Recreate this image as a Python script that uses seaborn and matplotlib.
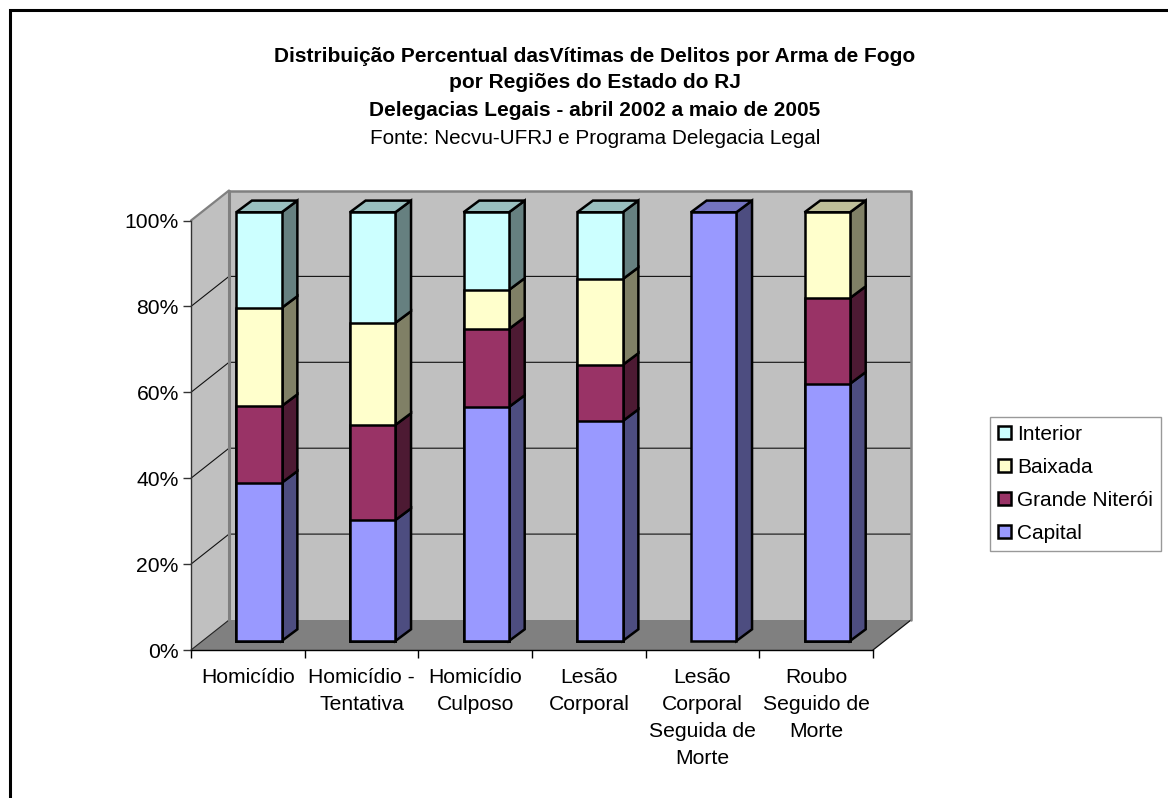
import matplotlib
matplotlib.use("Agg")
import matplotlib.pyplot as plt
from matplotlib.patches import Polygon, Patch
from matplotlib.ticker import FixedLocator, NullFormatter
import numpy as np
import pandas as pd
import seaborn as sns

categories = ["Homicídio", "Homicídio -\nTentativa", "Homicídio\nCulposo", "Lesão\nCorporal",
              "Lesão\nCorporal\nSeguida de\nMorte", "Roubo\nSeguido de\nMorte"]
capital = [36.9, 28.2, 54.6, 51.3, 100.0, 60.0]
niteroi = [17.9, 22.2, 18.2, 13.1, 0.0, 20.0]
baixada = [22.9, 23.8, 9.1, 20.0, 0.0, 20.0]
interior = [22.3, 25.8, 18.1, 15.6, 0.0, 0.0]
series_names = ["Capital", "Grande Niterói", "Baixada", "Interior"]
series_values = [capital, niteroi, baixada, interior]
front_colors = ["#9999FF", "#993366", "#FFFFCC", "#CCFFFF"]
side_colors = ["#4D4D80", "#4D1A33", "#808066", "#668080"]
top_colors = ["#7373BF", "#732650", "#BFBF99", "#99BFBF"]
title_lines = ["Distribuição Percentual dasVítimas de Delitos por Arma de Fogo",
               "por Regiões do Estado do RJ",
               "Delegacias Legais - abril 2002 a maio de 2005"]
source_line = "Fonte: Necvu-UFRJ e Programa Delegacia Legal"

sns.set_theme(style="white")
plt.rcParams["font.family"] = ["Liberation Sans", "DejaVu Sans"]

W, H = 1168, 798
fig = plt.figure(figsize=(W / 100, H / 100), dpi=100, facecolor="white")


def rect(x0, y_top, x1, y_bottom):
    return [x0 / W, 1 - y_bottom / H, (x1 - x0) / W, (y_bottom - y_top) / H]


# pixel canvas for frame, walls and depth faces
bg = fig.add_axes([0, 0, 1, 1], zorder=0)
bg.set_xlim(0, W)
bg.set_ylim(H, 0)
bg.axis("off")
bg.plot([10, 10, W], [H, 10, 10], color="black", lw=2.2, solid_joinstyle="miter", clip_on=False)

fx0, fx1, fy0, fy1 = 191, 873, 650, 220.5
ddx, ddy = 38, -30
wall = "#C0C0C0"
bg.add_patch(Polygon([(fx0, fy0), (fx0, fy1), (fx0 + ddx, fy1 + ddy), (fx0 + ddx, fy0 + ddy)],
                     fc=wall, ec="none"))
bg.add_patch(Polygon([(fx0 + ddx, fy1 + ddy), (fx1 + ddx, fy1 + ddy), (fx1 + ddx, fy0 + ddy), (fx0 + ddx, fy0 + ddy)],
                     fc=wall, ec="none"))
bg.add_patch(Polygon([(fx0, fy0), (fx0 + ddx, fy0 + ddy), (fx1 + ddx, fy0 + ddy), (fx1, fy0)],
                     fc="#808080", ec="none"))
for k in range(1, 5):
    y = fy0 + (fy1 - fy0) * k / 5
    bg.plot([fx0, fx0 + ddx, fx1 + ddx], [y, y + ddy, y + ddy], color="#111111", lw=0.8)
bg.plot([fx0, fx0 + ddx], [fy0, fy0 + ddy], color="#222222", lw=0.8)
bg.plot([fx1, fx1 + ddx], [fy0, fy0 + ddy], color="#111111", lw=0.9)
bg.plot([fx0, fx0 + ddx], [fy1, fy1 + ddy], color="#808080", lw=1.6)
bg.plot([fx0 + ddx, fx0 + ddx, ], [fy1 + ddy, fy0 + ddy], color="#808080", lw=2.2)
bg.plot([fx0 + ddx, fx1 + ddx, fx1 + ddx], [fy1 + ddy, fy1 + ddy, fy0 + ddy], color="#808080", lw=1.8)

# bars: front plane of the columns
ax = fig.add_axes(rect(202.1, 212.3, 884.1, 641), zorder=2)
ax.patch.set_alpha(0)
cum = np.cumsum(np.array(series_values), axis=0)
for i in range(3, -1, -1):
    df = pd.DataFrame({"cat": categories, "v": cum[i]})
    sub = df[np.array(series_values[i]) > 0]
    sns.barplot(data=sub, x="cat", y="v", order=categories, color=front_colors[i], saturation=1,
                width=0.4, edgecolor="black", linewidth=1.8, ax=ax, clip_on=False)
ax.set_xlim(-0.5, 5.5)
ax.set_ylim(0, 100)
ax.axis("off")

# depth faces
bdx, bdy = 15.7, -11.7
fig.canvas.draw()


def to_px(x, v):
    px, py = ax.transData.transform((x, v))
    return px, H - py


for c in range(len(categories)):
    left, right = c - 0.2, c + 0.2
    base = 0.0
    top_i = 0
    for i in range(4):
        val = series_values[i][c]
        if val <= 0:
            continue
        x, y0 = to_px(right, base)
        _, y1 = to_px(right, base + val)
        bg.add_patch(Polygon([(x, y0), (x, y1), (x + bdx, y1 + bdy), (x + bdx, y0 + bdy)],
                             fc=side_colors[i], ec="black", lw=1.8, joinstyle="miter", zorder=5))
        base += val
        top_i = i
    xl, yt = to_px(left, base)
    xr, _ = to_px(right, base)
    bg.add_patch(Polygon([(xl, yt), (xr, yt), (xr + bdx, yt + bdy), (xl + bdx, yt + bdy)],
                         fc=top_colors[top_i], ec="black", lw=1.8, joinstyle="miter", zorder=5))

# front axis with ticks and labels
axf = fig.add_axes(rect(fx0, fy1, fx1, fy0), zorder=1)
axf.patch.set_alpha(0)
axf.set_xlim(0, 6)
axf.set_ylim(0, 100)
for s in ("top", "right"):
    axf.spines[s].set_visible(False)
axf.spines["left"].set_color("#333333")
axf.spines["bottom"].set_color("black")
axf.spines["left"].set_linewidth(1.0)
axf.spines["bottom"].set_linewidth(1.0)
axf.set_yticks(range(0, 101, 20))
axf.set_yticklabels([f"{v}%" for v in range(0, 101, 20)], fontsize=15.2, color="black")
axf.set_xticks(np.arange(6) + 0.5)
axf.set_xticklabels(categories, fontsize=15.2, color="black", linespacing=1.53, va="top")
axf.xaxis.set_minor_locator(FixedLocator(range(7)))
axf.xaxis.set_minor_formatter(NullFormatter())
axf.tick_params(axis="x", which="major", length=0, pad=13)
axf.tick_params(axis="x", which="minor", length=5.8, width=1.0, color="black", bottom=True)
axf.tick_params(axis="y", which="major", length=5.8, width=1.0, color="#333333", pad=3, left=True)

# titles
for txt, yp in zip(title_lines, [57, 83, 110]):
    fig.text(595 / W, 1 - yp / H, txt, ha="center", va="center", fontsize=15, fontweight="bold", color="black")
fig.text(595 / W, 1 - 139 / H, source_line, ha="center", va="center", fontsize=14.9, color="black")

# legend
handles = [Patch(fc=front_colors[i], ec="black", lw=1.8, label=series_names[i]) for i in range(3, -1, -1)]
leg = fig.legend(handles=handles, loc="upper left", bbox_to_anchor=(990 / W, 1 - 417 / H),
                 borderaxespad=0, frameon=True, fancybox=False, edgecolor="#808080", facecolor="white",
                 fontsize=15, labelcolor="black", labelspacing=0.67, handlelength=0.62, handleheight=0.62,
                 handletextpad=0.3, borderpad=0.38)
leg.get_frame().set_linewidth(1.0)
leg.set_zorder(10)

fig.savefig("out.png", dpi=100, facecolor="white")
